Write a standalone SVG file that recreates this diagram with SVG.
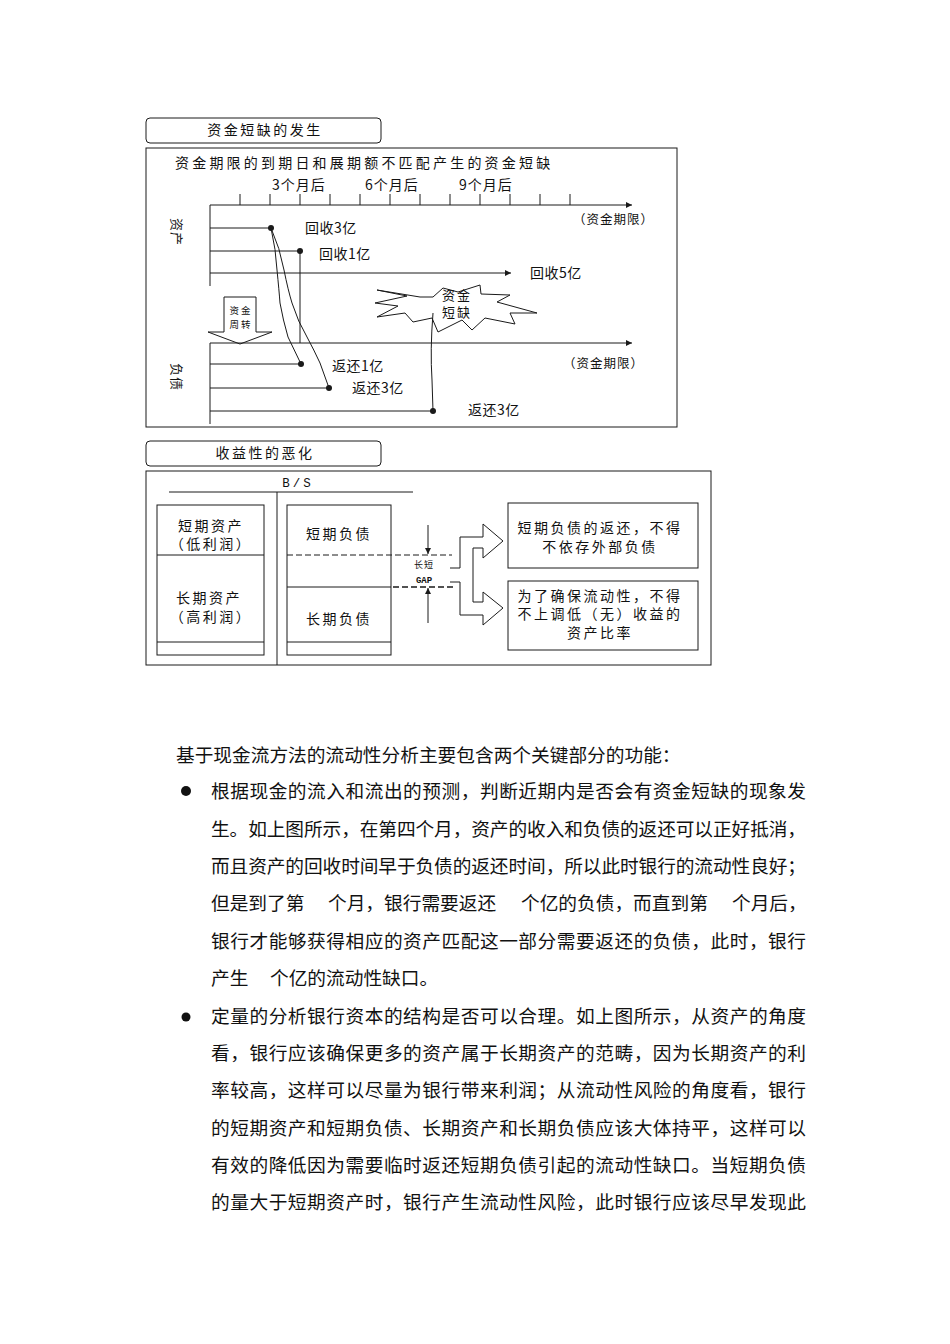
<svg xmlns="http://www.w3.org/2000/svg" width="950" height="1344" viewBox="0 0 950 1344">
<defs>
<style>
.ln{stroke:#1a1a1a;stroke-width:1;fill:none}
.bx{stroke:#1a1a1a;stroke-width:1;fill:#fff}
.t{font-family:"Noto Sans CJK SC","Noto Sans",sans-serif;font-size:14px;fill:#111}
.ts{letter-spacing:2.5px}
.c{text-anchor:middle}
.body{font-family:"Noto Sans CJK SC","Noto Sans",sans-serif;font-size:18.7px;fill:#111}
.dash{stroke:#1a1a1a;stroke-width:1;stroke-dasharray:6 3;fill:none}
</style>
<marker id="ah" viewBox="0 0 10 10" refX="10" refY="5" markerWidth="10" markerHeight="6" markerUnits="userSpaceOnUse" orient="auto">
<path d="M0,0 L10,5 L0,10 Z" fill="#1a1a1a"/>
</marker>
</defs>
<rect width="950" height="1344" fill="#fff"/>

<!-- Section 1 -->
<g id="title1">
<rect class="bx" x="146" y="118" width="235" height="25" rx="4"/>
<text class="t ts c" x="265" y="135">资金短缺的发生</text>
</g>
<g id="panel1">
<rect class="bx" x="146" y="148" width="531" height="279"/>
<text class="t" x="175" y="168" style="letter-spacing:3.2px">资金期限的到期日和展期额不匹配产生的资金短缺</text>
<text class="t" x="272" y="190" style="letter-spacing:1px">3个月后</text>
<text class="t" x="365" y="190" style="letter-spacing:1px">6个月后</text>
<text class="t" x="459" y="190" style="letter-spacing:1px">9个月后</text>
<text class="t" x="573" y="223.5" style="font-size:12.5px;letter-spacing:1px">（资金期限）</text>
<text class="t" x="563" y="367.5" style="font-size:12.5px;letter-spacing:1px">（资金期限）</text>
<text class="t" transform="rotate(90 176 232)" x="176" y="236.5" style="text-anchor:middle;font-size:13px;letter-spacing:1px">资产</text>
<text class="t" transform="rotate(90 176 377)" x="176" y="381.5" style="text-anchor:middle;font-size:13px;letter-spacing:1px">负债</text>
</g>
<g id="asset-items">
<text class="t" x="305" y="233" style="letter-spacing:0.5px">回收3亿</text>
<text class="t" x="319" y="258.5" style="letter-spacing:0.5px">回收1亿</text>
<text class="t" x="530" y="278" style="letter-spacing:0.5px">回收5亿</text>
</g>
<g id="liability-items">
<text class="t" x="332" y="371" style="letter-spacing:0.5px">返还1亿</text>
<text class="t" x="352" y="393" style="letter-spacing:0.5px">返还3亿</text>
<text class="t" x="468" y="415" style="letter-spacing:0.5px">返还3亿</text>
</g>
<g id="shortage-burst">
<path class="bx" d="M377,290 L420,297 L433,297 L443,288 L458,292 L480,285 L481,294 L510,295 L497,302 L537,313 L510,313 L515,324 L485,318 L472,330 L462,320 L438,332 L432,318 L413,322 L405,313 L377,317 L398,306 L375,303 L407,296 Z"/>
<text class="t" x="442" y="299.5" style="font-size:13px;letter-spacing:2px">资金</text>
<text class="t" x="442" y="317" style="font-size:13px;letter-spacing:2px">短缺</text>
</g>
<g id="fund-turnover">
<path class="bx" d="M224,297 H256 V332 H272 L240,344 L208,332 H224 Z"/>
<text class="t c" x="240" y="314" style="font-size:9.5px">资 金</text>
<text class="t c" x="240" y="328" style="font-size:9.5px">周 转</text>
</g>

<g id="connectors">
<line class="ln" x1="210" y1="205" x2="632" y2="205" marker-end="url(#ah)"/>
<path class="ln" d="M240,194V205M270,194V205M300,194V205M330,194V205M360,194V205M390,194V205M420,194V205M450,194V205M480,194V205M510,194V205M540,194V205M570,194V205"/>
<line class="ln" x1="210" y1="205" x2="210" y2="286"/>
<line class="ln" x1="210" y1="228" x2="271" y2="228"/>
<line class="ln" x1="210" y1="251" x2="300" y2="251"/>
<line class="ln" x1="210" y1="273" x2="511" y2="273" marker-end="url(#ah)"/>
<line class="ln" x1="300" y1="251" x2="300" y2="343"/>
<line class="ln" x1="210" y1="343" x2="632" y2="343" marker-end="url(#ah)"/>
<line class="ln" x1="210" y1="343" x2="210" y2="424"/>
<line class="ln" x1="210" y1="364" x2="301" y2="364"/>
<line class="ln" x1="210" y1="388" x2="329" y2="388"/>
<line class="ln" x1="210" y1="411" x2="433" y2="411"/>
<path class="ln" d="M271,228 Q276,250 277,270 Q279,290 280,303 Q283,320 288,337 L301,364"/>
<path class="ln" d="M271,228 Q280,248 284,270 Q288,290 292,303 Q298,322 307,337 Q314,350 320,363 L329,388"/>
<path class="ln" d="M433,313 Q430,350 432,380 L433,411"/>
<circle cx="271" cy="228" r="3" fill="#1a1a1a"/>
<circle cx="300" cy="251" r="3" fill="#1a1a1a"/>
<circle cx="301" cy="364" r="3" fill="#1a1a1a"/>
<circle cx="329" cy="388" r="3" fill="#1a1a1a"/>
<circle cx="433" cy="411" r="3" fill="#1a1a1a"/>
</g>

<!-- Section 2 -->
<g id="title2">
<rect class="bx" x="146" y="441" width="235" height="25" rx="4"/>
<text class="t ts c" x="265" y="458">收益性的恶化</text>
</g>
<g id="panel2">
<rect class="bx" x="146" y="471" width="565" height="194"/>
<text x="298" y="486.5" style="font-family:'Liberation Mono',monospace;font-size:12.5px;letter-spacing:3px;text-anchor:middle;fill:#111">B/S</text>
<line class="ln" x1="169" y1="492" x2="413" y2="492"/>
<line class="ln" x1="277" y1="492" x2="277" y2="665"/>
</g>
<g id="assets-box">
<rect class="bx" x="157" y="505" width="107" height="150"/>
<line class="ln" x1="157" y1="555" x2="264" y2="555"/>
<line class="ln" x1="157" y1="642" x2="264" y2="642"/>
<text class="t ts c" x="211" y="531">短期资产</text>
<text class="t ts c" x="211" y="549">（低利润）</text>
<text class="t ts c" x="209" y="603">长期资产</text>
<text class="t ts c" x="211" y="621.5">（高利润）</text>
</g>
<g id="liabilities-box">
<rect class="bx" x="287" y="505" width="104" height="150"/>
<line class="ln" x1="287" y1="587" x2="391" y2="587"/>
<line class="ln" x1="287" y1="642" x2="391" y2="642"/>
<text class="t ts c" x="339" y="539">短期负债</text>
<text class="t ts c" x="339" y="624">长期负债</text>
</g>
<g id="gap-label">
<text class="t c" x="424" y="568" style="font-size:9px;letter-spacing:1px">长短</text>
<text x="424" y="583" style="font-family:'Liberation Mono',monospace;font-size:9px;font-weight:bold;text-anchor:middle;fill:#111">GAP</text>
</g>
<g id="box-a">
<rect class="bx" x="508" y="503" width="190" height="65"/>
<text class="t ts c" x="600" y="533">短期负债的返还，不得</text>
<text class="t ts c" x="600" y="551.5">不依存外部负债</text>
</g>
<g id="box-b">
<rect class="bx" x="508" y="581" width="190" height="69"/>
<text class="t ts c" x="600" y="600.5">为了确保流动性，不得</text>
<text class="t ts c" x="600" y="619">不上调低（无）收益的</text>
<text class="t ts c" x="600" y="637.5">资产比率</text>
</g>
<g id="connectors-2">
<line class="dash" x1="287" y1="555" x2="452" y2="555"/>
<line class="dash" x1="393" y1="587" x2="455" y2="587" style="stroke-width:1.6"/>
<line class="ln" x1="428" y1="525" x2="428" y2="554" marker-end="url(#ah)"/>
<line class="ln" x1="428" y1="623" x2="428" y2="588" marker-end="url(#ah)"/>
<path class="ln" d="M450,568 H460 V537 H483 V524 L503,541 L483,558 V548 H473 V602 H483 V592 L503,608 L483,625 V615 H460 V582 H450"/>
</g>

<!-- Body text -->
<g id="body-text">
<text class="body" x="176" y="762">基于现金流方法的流动性分析主要包含两个关键部分的功能：</text>
<circle cx="186" cy="791" r="5" fill="#111"/>
<text class="body" x="211" y="798" textLength="595" lengthAdjust="spacing">根据现金的流入和流出的预测，判断近期内是否会有资金短缺的现象发</text>
<text class="body" x="211" y="836" textLength="595" lengthAdjust="spacing">生。如上图所示，在第四个月，资产的收入和负债的返还可以正好抵消，</text>
<text class="body" x="211" y="873" textLength="595" lengthAdjust="spacing">而且资产的回收时间早于负债的返还时间，所以此时银行的流动性良好；</text>
<text class="body" y="910"><tspan x="211">但是到了第</tspan><tspan x="328">个月，银行需要返还</tspan><tspan x="521">个亿的负债，而直到第</tspan><tspan x="732">个月后，</tspan></text>
<text class="body" x="211" y="948" textLength="595" lengthAdjust="spacing">银行才能够获得相应的资产匹配这一部分需要返还的负债，此时，银行</text>
<text class="body" y="985"><tspan x="211">产生</tspan><tspan x="270">个亿的流动性缺口。</tspan></text>
<circle cx="186" cy="1017" r="4.5" fill="#111"/>
<text class="body" x="211" y="1023" textLength="595" lengthAdjust="spacing">定量的分析银行资本的结构是否可以合理。如上图所示，从资产的角度</text>
<text class="body" x="211" y="1060" textLength="595" lengthAdjust="spacing">看，银行应该确保更多的资产属于长期资产的范畴，因为长期资产的利</text>
<text class="body" x="211" y="1097" textLength="595" lengthAdjust="spacing">率较高，这样可以尽量为银行带来利润；从流动性风险的角度看，银行</text>
<text class="body" x="211" y="1135" textLength="595" lengthAdjust="spacing">的短期资产和短期负债、长期资产和长期负债应该大体持平，这样可以</text>
<text class="body" x="211" y="1172" textLength="595" lengthAdjust="spacing">有效的降低因为需要临时返还短期负债引起的流动性缺口。当短期负债</text>
<text class="body" x="211" y="1209" textLength="595" lengthAdjust="spacing">的量大于短期资产时，银行产生流动性风险，此时银行应该尽早发现此</text>
</g>
</svg>
